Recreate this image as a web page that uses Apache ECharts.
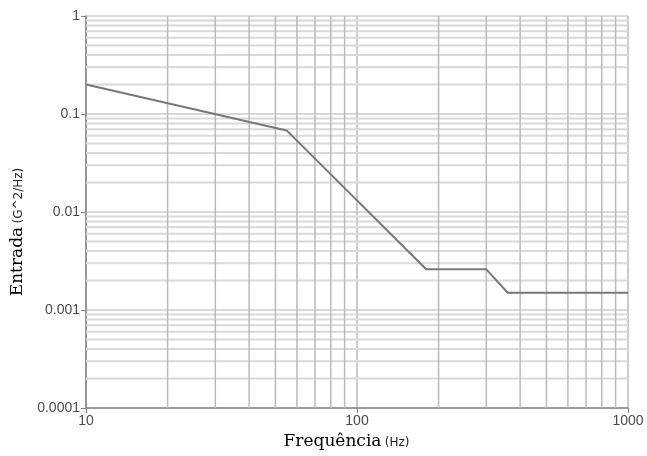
<!DOCTYPE html>
<html>
<head>
<meta charset="utf-8">
<script src="https://cdn.jsdelivr.net/npm/echarts@6/dist/echarts.min.js"></script>
<style>
  html, body { margin: 0; padding: 0; background: #fff; }
  #chart { width: 647px; height: 456px; }
</style>
</head>
<body>
<div id="chart"></div>
<script>
// Input PSD profile (frequency in Hz, level in G^2/Hz)
const freqHz = [10, 55, 180, 300, 360, 1000];
const psdLevel = [0.2, 0.068, 0.0026, 0.0026, 0.0015, 0.0015];

// Axis ranges
const xRange = [10, 1000];
const yRange = [0.0001, 1];

// Minor grid positions for the log-log axes
const xMinorGrid = [20, 30, 40, 50, 60, 70, 80, 90, 200, 300, 400, 500, 600, 700, 800, 900];
const yMinorGrid = [
  0.0002, 0.0003, 0.0004, 0.0005, 0.0006, 0.0007, 0.0008, 0.0009,
  0.002, 0.003, 0.004, 0.005, 0.006, 0.007, 0.008, 0.009,
  0.02, 0.03, 0.04, 0.05, 0.06, 0.07, 0.08, 0.09,
  0.2, 0.3, 0.4, 0.5, 0.6, 0.7, 0.8, 0.9
];
const yTickLabels = ['0.0001', '0.001', '0.01', '0.1', '1'];

const H_GRID = '#d9d9d9';
const V_GRID = '#bababa';
const AXIS = '#858585';

// Each minor grid line is a plain two-point line series on the log axes
function gridSeries(values, horizontal) {
  return values.map(v => ({
    type: 'line',
    silent: true,
    showSymbol: false,
    z: horizontal ? 1 : 2,
    lineStyle: { color: horizontal ? H_GRID : V_GRID, width: horizontal ? 2 : 1.5 },
    data: horizontal ? [[xRange[0], v], [xRange[1], v]] : [[v, yRange[0]], [v, yRange[1]]]
  }));
}

const chart = echarts.init(document.getElementById('chart'), null, { renderer: 'canvas' });

chart.setOption({
  animation: false,
  grid: { left: 86, right: 19, top: 16, bottom: 48 },
  xAxis: {
    type: 'log',
    logBase: 10,
    min: xRange[0],
    max: xRange[1],
    name: '{t|Frequência} {u|(Hz)}',
    nameLocation: 'middle',
    nameGap: 24,
    nameTextStyle: {
      padding: [0, 21, 0, 0],
      rich: {
        t: { fontFamily: 'DejaVu Serif', fontSize: 17, color: '#000' },
        u: { fontFamily: 'DejaVu Sans', fontSize: 12, color: '#222', padding: [3, 0, 0, 0] }
      }
    },
    axisLine: { show: true, onZero: false, lineStyle: { color: AXIS, width: 1.5 } },
    axisTick: { show: true, length: 5, lineStyle: { color: AXIS } },
    axisLabel: {
      fontFamily: 'Liberation Sans', fontSize: 14, color: '#4a4a4a', margin: 6,
      formatter: v => String(Math.round(v))
    },
    splitLine: { show: true, lineStyle: { color: V_GRID, width: 1.5 } }
  },
  yAxis: {
    type: 'log',
    logBase: 10,
    min: yRange[0],
    max: yRange[1],
    name: '{t|Entrada} {u|(G^2/Hz)}',
    nameLocation: 'middle',
    nameGap: 56,
    nameRotate: 90,
    nameTextStyle: {
      padding: [0, 40, 0, 0],
      rich: {
        t: { fontFamily: 'DejaVu Serif', fontSize: 17, color: '#000' },
        u: { fontFamily: 'DejaVu Sans', fontSize: 12, color: '#222', padding: [3, 0, 0, 0] }
      }
    },
    axisLine: { show: true, onZero: false, lineStyle: { color: AXIS, width: 1.5 } },
    axisTick: { show: true, length: 5, lineStyle: { color: AXIS } },
    axisLabel: {
      fontFamily: 'Liberation Sans', fontSize: 14, color: '#4a4a4a', margin: 6,
      formatter: v => {
        const idx = Math.round(Math.log10(v)) + 4;
        return yTickLabels[idx] !== undefined ? yTickLabels[idx] : '';
      }
    },
    splitLine: { show: true, lineStyle: { color: H_GRID, width: 2 } }
  },
  series: [
    ...gridSeries(yMinorGrid, true),
    ...gridSeries(xMinorGrid, false),
    {
      type: 'line',
      name: 'Entrada',
      data: freqHz.map((f, i) => [f, psdLevel[i]]),
      showSymbol: false,
      z: 5,
      lineStyle: { color: '#777', width: 2 },
      itemStyle: { color: '#777' }
    }
  ]
});
</script>
</body>
</html>
